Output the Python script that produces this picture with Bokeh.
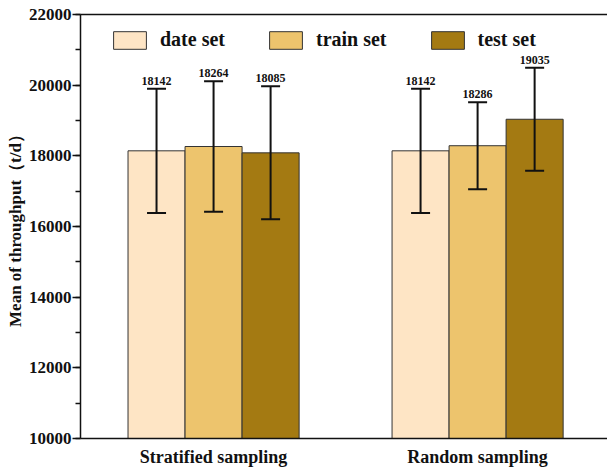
from bokeh.plotting import figure
from bokeh.models import (ColumnDataSource, Range1d, FixedTicker, LinearAxis,
                          Whisker, TeeHead, Legend, LegendItem)
from bokeh.core.properties import value
from bokeh.embed import file_html
from bokeh.resources import INLINE

groups = ["Stratified sampling", "Random sampling"]
sets = ["date set", "train set", "test set"]
date_mean = [18142, 18142]
train_mean = [18264, 18286]
test_mean = [18085, 19035]
date_sd = [1760, 1760]
train_sd = [1845, 1230]
test_sd = [1882, 1460]
y_ticks = [10000, 12000, 14000, 16000, 18000, 20000, 22000]

colors = ["#FEE5C5", "#EDC46D", "#A47A12"]
FONT = "Liberation Serif"
INK = "#111111"

p = figure(width=607, height=472, output_backend="svg", toolbar_location=None,
           x_range=Range1d(-0.504, 1.492), y_range=Range1d(10000, 22000),
           min_border_left=80, min_border_right=0, min_border_top=14,
           min_border_bottom=34)
p.outline_line_color = None
p.xgrid.visible = False
p.ygrid.visible = False

bar_w = 0.216
offsets = [-bar_w, 0.0, bar_w]
means = [date_mean, train_mean, test_mean]
sds = [date_sd, train_sd, test_sd]
items = []
for k in range(3):
    xs = [i + offsets[k] for i in range(len(groups))]
    src = ColumnDataSource(dict(
        x=xs, top=means[k],
        upper=[m + s for m, s in zip(means[k], sds[k])],
        lower=[m - s for m, s in zip(means[k], sds[k])],
        label=[str(m) for m in means[k]],
    ))
    r = p.vbar(x="x", top="top", bottom=10000, width=bar_w, source=src,
               fill_color=colors[k], line_color="#333333", line_width=1)
    items.append(LegendItem(label=sets[k], renderers=[r]))
    w = Whisker(base="x", upper="upper", lower="lower", source=src,
                level="overlay",
                line_color=INK, line_width=2,
                upper_head=TeeHead(size=19, line_width=2, line_color=INK),
                lower_head=TeeHead(size=19, line_width=2, line_color=INK))
    p.add_layout(w)
    p.text(x="x", y="upper", text="label", source=src, text_align="center",
           text_baseline="bottom", y_offset=-4, text_font=value(FONT),
           text_font_style="bold", text_font_size="12px", text_color=INK)

legend = Legend(items=items, orientation="horizontal", location=(29, 387),
                border_line_color=None, background_fill_alpha=0,
                glyph_width=41, glyph_height=22, label_standoff=10, spacing=40,
                padding=0, margin=0, label_text_font=FONT,
                label_text_font_style="bold", label_text_font_size="20px",
                label_text_color=INK)
p.add_layout(legend)

# y axis
ya = p.yaxis[0]
ya.ticker = FixedTicker(ticks=y_ticks, minor_ticks=list(range(10000, 22001, 1000)))
ya.axis_label = "Mean of throughput（t/d）"
ya.axis_label_text_font = FONT
ya.axis_label_text_font_style = "bold"
ya.axis_label_text_font_size = "17px"
ya.axis_label_text_color = INK
ya.axis_label_standoff = 1
ya.major_label_text_font = FONT
ya.major_label_text_font_style = "bold"
ya.major_label_text_font_size = "17px"
ya.major_label_text_color = INK
ya.major_label_standoff = 1
ya.major_tick_out = 8
ya.major_tick_in = 0
ya.minor_tick_out = 5
ya.minor_tick_in = 0
ya.axis_line_width = 1.5
ya.axis_line_color = INK
ya.major_tick_line_color = INK
ya.minor_tick_line_color = INK
ya.major_tick_line_width = 1.5
ya.minor_tick_line_width = 1.5

# x axis
xa = p.xaxis[0]
xa.ticker = FixedTicker(ticks=[0, 1])
xa.major_label_overrides = {0: groups[0], 1: groups[1]}
xa.major_label_text_font = FONT
xa.major_label_text_font_style = "bold"
xa.major_label_text_font_size = "18px"
xa.major_label_text_color = INK
xa.major_label_standoff = 8
xa.major_tick_out = 0
xa.major_tick_in = 0
xa.minor_tick_out = 0
xa.minor_tick_in = 0
xa.axis_line_width = 1.5
xa.axis_line_color = INK

# top frame line
top = LinearAxis(ticker=FixedTicker(ticks=[]), major_tick_out=0, major_tick_in=0,
                 minor_tick_out=0, minor_tick_in=0, major_label_standoff=0,
                 major_label_text_font_size="0px", axis_line_width=1.5,
                 axis_line_color=INK)
p.add_layout(top, "above")

open("out.html", "w").write(file_html(p, INLINE))
